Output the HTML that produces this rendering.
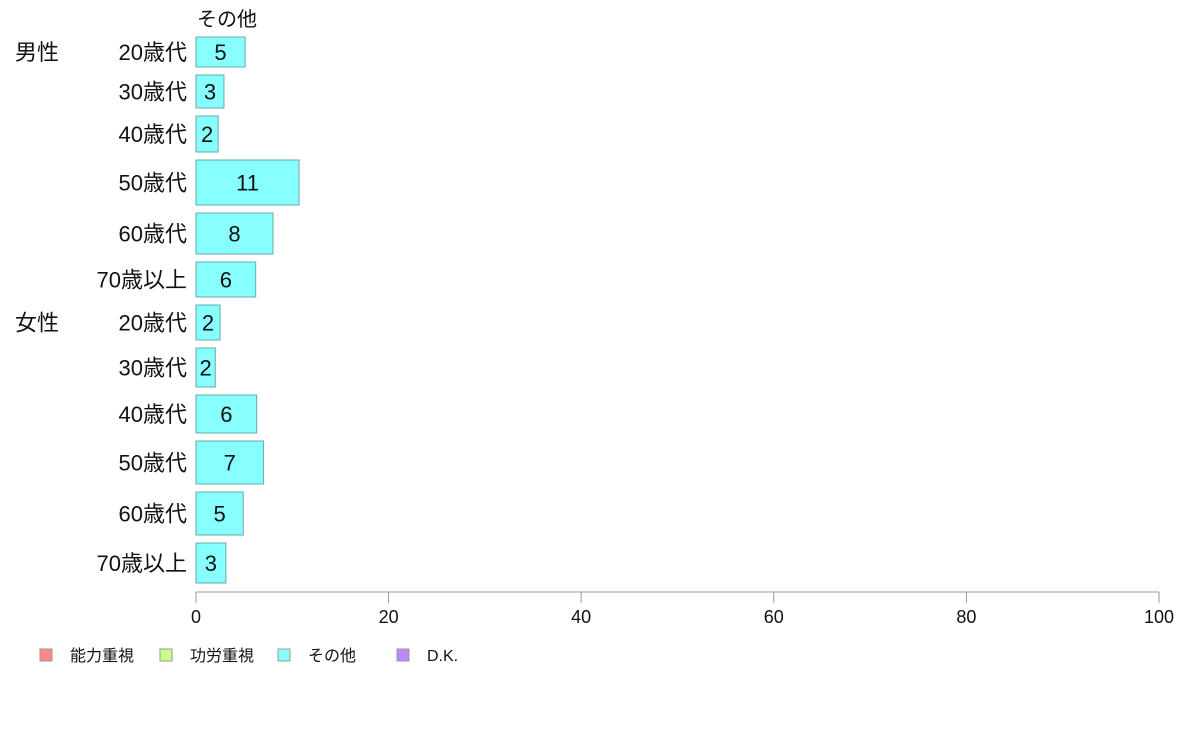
<!DOCTYPE html>
<html><head><meta charset="utf-8"><style>
body{margin:0;background:#fff;}
svg text{font-family:"Liberation Sans","Noto Sans CJK JP",sans-serif;fill:#111;}
</style></head><body>
<svg id="c" width="1188" height="736" xmlns="http://www.w3.org/2000/svg"></svg>
<script>
const genders=["男性","","","","","","女性","","","","",""];
const ages=["20歳代","30歳代","40歳代","50歳代","60歳代","70歳以上","20歳代","30歳代","40歳代","50歳代","60歳代","70歳以上"];
const values=[5.1,2.9,2.3,10.7,8.0,6.2,2.5,2.0,6.3,7.0,4.9,3.1];
const labels=["5","3","2","11","8","6","2","2","6","7","5","3"];
const weights=[30,33,36,45,41,35,35,39,38,43,43,40];
const ticks=[0,20,40,60,80,100];
const legendNames=["能力重視","功労重視","その他","D.K."];
const legendColors=["#ff8888","#ccff88","#88ffff","#bb88ff"];
const NS="http://www.w3.org/2000/svg";
const svg=document.getElementById('c');
const x0=196,x1=1159;
const xs=v=>x0+(x1-x0)*v/100;
function el(t,a,txt){const e=document.createElementNS(NS,t);for(const k in a)e.setAttribute(k,a[k]);if(txt!==undefined)e.textContent=txt;svg.appendChild(e);return e;}
let t=el('text',{x:197,y:26,'font-size':20},'その他');


const gap=8;let y=37;
values.forEach((v,i)=>{
  const h=weights[i];
  const r=el('rect',{x:x0,y:y,width:xs(v)-x0,height:h,fill:'#88ffff',stroke:'#66aaaa','stroke-width':1});
  
  
  const cy=y+h/2+8;
  const vl=el('text',{x:(x0+xs(v))/2,y:cy,'font-size':22,'text-anchor':'middle'},labels[i]);
  
  
  const al=el('text',{x:187,y:cy,'font-size':22,'text-anchor':'end'},ages[i]);
  
  
  if(genders[i]){const g=el('text',{x:15,y:cy,'font-size':22},genders[i]);
    
    }
  y+=h+gap;
});
const ax=el('line',{x1:x0,x2:x1,y1:592,y2:592,stroke:'#999','stroke-width':1});


ticks.forEach(v=>{
  const l=el('line',{x1:xs(v),x2:xs(v),y1:592,y2:603,stroke:'#999','stroke-width':1});
  
  
  const tl=el('text',{x:xs(v),y:623,'font-size':18,'text-anchor':'middle'},String(v));
  
  
});
const lx=[40,160,278,397];
legendNames.forEach((n,i)=>{
  const r=el('rect',{x:lx[i],y:649,width:12,height:12,fill:legendColors[i],stroke:'#999','stroke-width':1});
  
  
  const tx=el('text',{x:lx[i]+30,y:661,'font-size':16},n);
  
  
});
</script>
</body></html>
